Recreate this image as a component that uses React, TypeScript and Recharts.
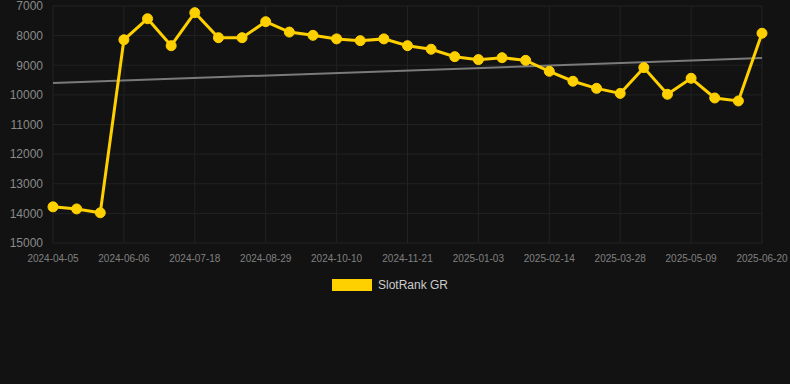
import React from 'react';
import { LineChart, Line, XAxis, YAxis, CartesianGrid, Legend, ReferenceLine } from 'recharts';

const dates = [
  '2024-04-05', '2024-04-26', '2024-05-17', '2024-06-06', '2024-06-20', '2024-07-04', '2024-07-18',
  '2024-08-01', '2024-08-15', '2024-08-29', '2024-09-12', '2024-09-26', '2024-10-10', '2024-10-24',
  '2024-11-07', '2024-11-21', '2024-12-05', '2024-12-19', '2025-01-03', '2025-01-17', '2025-01-31',
  '2025-02-14', '2025-02-28', '2025-03-14', '2025-03-28', '2025-04-11', '2025-04-25', '2025-05-09',
  '2025-05-23', '2025-06-06', '2025-06-20',
];

const rankGR = [
  13780, 13850, 13980, 8140, 7430, 8340, 7225, 8070, 8070, 7530, 7880, 7990, 8110, 8170, 8110,
  8340, 8460, 8710, 8810, 8745, 8835, 9205, 9540, 9780, 9950, 9080, 9980, 9440, 10105, 10205, 7920,
];

const trendEnds = [9600, 8755];

const yTicks = [7000, 8000, 9000, 10000, 11000, 12000, 13000, 14000, 15000];

const data = dates.map((d, i) => ({ date: d, rank: rankGR[i] }));

const LegendContent = () => (
  <div style={{ display: 'flex', justifyContent: 'center', alignItems: 'center', fontFamily: 'Liberation Sans, Arial, sans-serif', fontSize: 12, color: '#cccccc', paddingRight: 10, height: 13 }}>
    <span style={{ display: 'inline-block', width: 40, height: 12, background: '#FFD000', marginRight: 6 }} />
    <span>SlotRank GR</span>
  </div>
);

export default function App() {
  return (
    <div style={{ position: 'absolute', left: 0, top: 0, width: 790, height: 384, background: '#121212' }}>
      <LineChart width={790} height={384} data={data} margin={{ top: 6, right: 28, left: 0, bottom: 98 }}>
        <CartesianGrid stroke="#222222" strokeWidth={1} />
        <XAxis
          dataKey="date"
          interval={2}
          tickLine={false}
          axisLine={false}
          tickMargin={6}
          height={30}
          tick={{ fill: '#808080', fontSize: 10, fontFamily: 'Liberation Sans, Arial, sans-serif' }}
        />
        <YAxis
          reversed
          domain={[7000, 15000]}
          ticks={yTicks}
          interval={0}
          width={53}
          tickLine={false}
          axisLine={false}
          tickMargin={4}
          tick={{ fill: '#8a8a8a', fontSize: 12, fontFamily: 'Liberation Sans, Arial, sans-serif' }}
        />
        <ReferenceLine
          segment={[{ x: dates[0], y: trendEnds[0] }, { x: dates[dates.length - 1], y: trendEnds[1] }]}
          stroke="#7a7a7a"
          strokeWidth={2}
        />
        <Line
          type="linear"
          dataKey="rank"
          name="SlotRank GR"
          stroke="#FFD000"
          strokeWidth={3}
          dot={{ r: 5, fill: '#FFD000', stroke: '#FFD000', strokeWidth: 1 }}
          activeDot={false}
          isAnimationActive={false}
        />
        <Legend
          verticalAlign="bottom"
          content={<LegendContent />}
          wrapperStyle={{ position: 'absolute', top: 278, left: 0, width: 790 }}
        />
      </LineChart>
    </div>
  );
}
